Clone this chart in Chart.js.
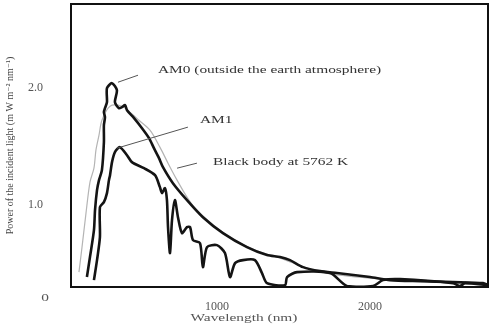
<!DOCTYPE html>
<html>
<head>
<meta charset="utf-8">
<script src="https://cdn.jsdelivr.net/npm/chart.js@4.4.1/dist/chart.umd.min.js"></script>
<style>
    html, body { margin: 0; padding: 0; background: #ffffff; }
    #wrap { width: 495px; height: 326px; }
</style>
</head>
<body>
<div id="wrap"><canvas id="spectrumChart"></canvas></div>
<script>
// AM0 spectrum (outside the atmosphere)
const am0Wavelength = [150, 170, 196, 203, 216, 229, 248, 261, 261, 268, 261, 268, 281, 281, 314, 346, 333, 359, 379, 399, 412, 458, 510, 556, 588, 621, 647, 712, 804, 908, 1039, 1196, 1327, 1412, 1477, 1562, 1673, 1784, 2000, 2131, 2327, 2542, 2739, 2771];
const am0Power = [0.385, 0.556, 0.786, 0.957, 1.128, 1.214, 1.299, 1.538, 1.684, 1.752, 1.795, 1.829, 1.880, 2.000, 2.043, 1.983, 1.880, 1.829, 1.838, 1.855, 1.812, 1.744, 1.658, 1.573, 1.487, 1.402, 1.325, 1.188, 1.043, 0.897, 0.761, 0.641, 0.573, 0.556, 0.530, 0.470, 0.436, 0.419, 0.385, 0.359, 0.350, 0.342, 0.333, 0.316];

// AM1 spectrum (at the ground)
const am1Wavelength = [196, 216, 235, 235, 261, 281, 294, 301, 314, 333, 366, 412, 444, 523, 595, 627, 641, 660, 673, 680, 693, 706, 725, 745, 771, 804, 824, 843, 889, 908, 935, 1000, 1052, 1085, 1118, 1170, 1248, 1294, 1327, 1444, 1458, 1523, 1739, 1850, 2020, 2085, 2196, 2542, 2588, 2621, 2771];
const am1Power = [0.359, 0.530, 0.726, 0.983, 1.026, 1.103, 1.214, 1.256, 1.368, 1.453, 1.496, 1.427, 1.368, 1.316, 1.256, 1.154, 1.103, 1.145, 1.043, 0.812, 0.590, 0.872, 1.043, 0.897, 0.761, 0.812, 0.812, 0.701, 0.675, 0.470, 0.641, 0.658, 0.590, 0.385, 0.504, 0.530, 0.530, 0.419, 0.333, 0.316, 0.385, 0.427, 0.419, 0.308, 0.308, 0.359, 0.368, 0.333, 0.308, 0.333, 0.316];

// black body at 5762 K
const bbWavelength = [98, 118, 144, 170, 196, 209, 229, 248, 301, 379, 431, 490, 562, 627, 680, 739, 804, 856, 954, 1085, 1248, 1412, 1673, 2000, 2327, 2771];
const bbPower = [0.427, 0.641, 0.932, 1.197, 1.316, 1.470, 1.598, 1.726, 1.846, 1.846, 1.795, 1.726, 1.641, 1.496, 1.359, 1.214, 1.068, 0.974, 0.855, 0.726, 0.615, 0.547, 0.427, 0.376, 0.350, 0.316];

const xTicks = [1000, 2000];
const yTicks = [1.0, 2.0];
const originLabel = "0";
const xTitle = "Wavelength (nm)";
const yTitle = "Power of the incident light (m W m\u207B\u00B2 nm\u207B\u00B9)";
const curveLabels = ["AM0 (outside the earth atmosphere)", "AM1", "Black body at 5762 K"];

const serif = "'Liberation Serif', 'DejaVu Serif', serif";

function toPoints(xs, ys) {
    return xs.map((x, i) => ({ x: x, y: ys[i] }));
}

// where the callout texts and their leader lines sit, in axis units
const callouts = [
    { text: curveLabels[0], at: [614, 2.154], from: [353, 2.051], to: [484, 2.111] },
    { text: curveLabels[1], at: [889, 1.726], from: [346, 1.487], to: [810, 1.667] },
    { text: curveLabels[2], at: [974, 1.368], from: [739, 1.316], to: [869, 1.359] },
];

// the scanned figure is stretched sideways, so text is widened a bit
function stretchedText(ctx, text, x, y, size, align) {
    ctx.save();
    ctx.font = size + "px " + serif;
    ctx.textBaseline = "middle";
    ctx.textAlign = align;
    ctx.translate(x, y);
    ctx.scale(1.4, 1);
    ctx.fillText(text, 0, 0);
    ctx.restore();
}

const framePlugin = {
    id: "frame",
    afterDraw(chart) {
        const ctx = chart.ctx;
        const area = chart.chartArea;
        const xs = chart.scales.x;
        const ys = chart.scales.y;

        ctx.save();
        ctx.strokeStyle = "#111111";
        ctx.lineWidth = 2;
        ctx.strokeRect(area.left, area.top, area.right - area.left, area.bottom - area.top);

        ctx.strokeStyle = "#555555";
        ctx.lineWidth = 1;
        callouts.forEach((c) => {
            ctx.beginPath();
            ctx.moveTo(xs.getPixelForValue(c.from[0]), ys.getPixelForValue(c.from[1]));
            ctx.lineTo(xs.getPixelForValue(c.to[0]), ys.getPixelForValue(c.to[1]));
            ctx.stroke();
        });

        ctx.fillStyle = "#333333";
        callouts.forEach((c) => {
            stretchedText(ctx, c.text, xs.getPixelForValue(c.at[0]), ys.getPixelForValue(c.at[1]), 11, "left");
        });

        ctx.fillStyle = "#555555";
        stretchedText(ctx, originLabel, 45, area.bottom + 11, 11, "center");
        stretchedText(ctx, xTitle, 244, area.bottom + 31, 11, "center");
        ctx.restore();
    },
};

new Chart(document.getElementById("spectrumChart"), {
    type: "scatter",
    data: {
        datasets: [
            {
                label: "AM0",
                data: toPoints(am0Wavelength, am0Power),
                showLine: true,
                borderColor: "#141414",
                borderWidth: 2.6,
                pointRadius: 0,
                tension: 0.25,
            },
            {
                label: "AM1",
                data: toPoints(am1Wavelength, am1Power),
                showLine: true,
                borderColor: "#141414",
                borderWidth: 2.6,
                pointRadius: 0,
                tension: 0.25,
            },
            {
                label: "Black body",
                data: toPoints(bbWavelength, bbPower),
                showLine: true,
                borderColor: "#b4b4b4",
                borderWidth: 1.2,
                pointRadius: 0,
                tension: 0.3,
            },
        ],
    },
    options: {
        responsive: true,
        maintainAspectRatio: false,
        animation: false,
        layout: {
            padding: { left: 0, top: 4, right: 7, bottom: 0 },
        },
        plugins: {
            legend: { display: false },
            tooltip: { enabled: false },
        },
        scales: {
            x: {
                type: "linear",
                min: 46,
                max: 2771,
                afterBuildTicks: (scale) => {
                    scale.ticks = xTicks.map((v) => ({ value: v }));
                },
                afterFit: (scale) => {
                    scale.height = 39;
                    scale.paddingLeft = 0;
                    scale.paddingRight = 0;
                },
                grid: { display: false },
                border: { display: false },
                ticks: {
                    padding: 5,
                    color: "#555555",
                    font: { family: serif, size: 12 },
                    callback: (v) => String(v),
                },
            },
            y: {
                type: "linear",
                min: 0.30,
                max: 2.72,
                afterBuildTicks: (scale) => {
                    scale.ticks = yTicks.map((v) => ({ value: v }));
                },
                afterFit: (scale) => {
                    scale.width = 71;
                    scale.paddingTop = 0;
                    scale.paddingBottom = 0;
                },
                grid: { display: false },
                border: { display: false },
                title: {
                    display: true,
                    text: yTitle,
                    color: "#444444",
                    font: { family: serif, size: 10 },
                },
                ticks: {
                    padding: 20,
                    color: "#555555",
                    font: { family: serif, size: 12 },
                    callback: (v) => v.toFixed(1),
                },
            },
        },
    },
    plugins: [framePlugin],
});
</script>
</body>
</html>
